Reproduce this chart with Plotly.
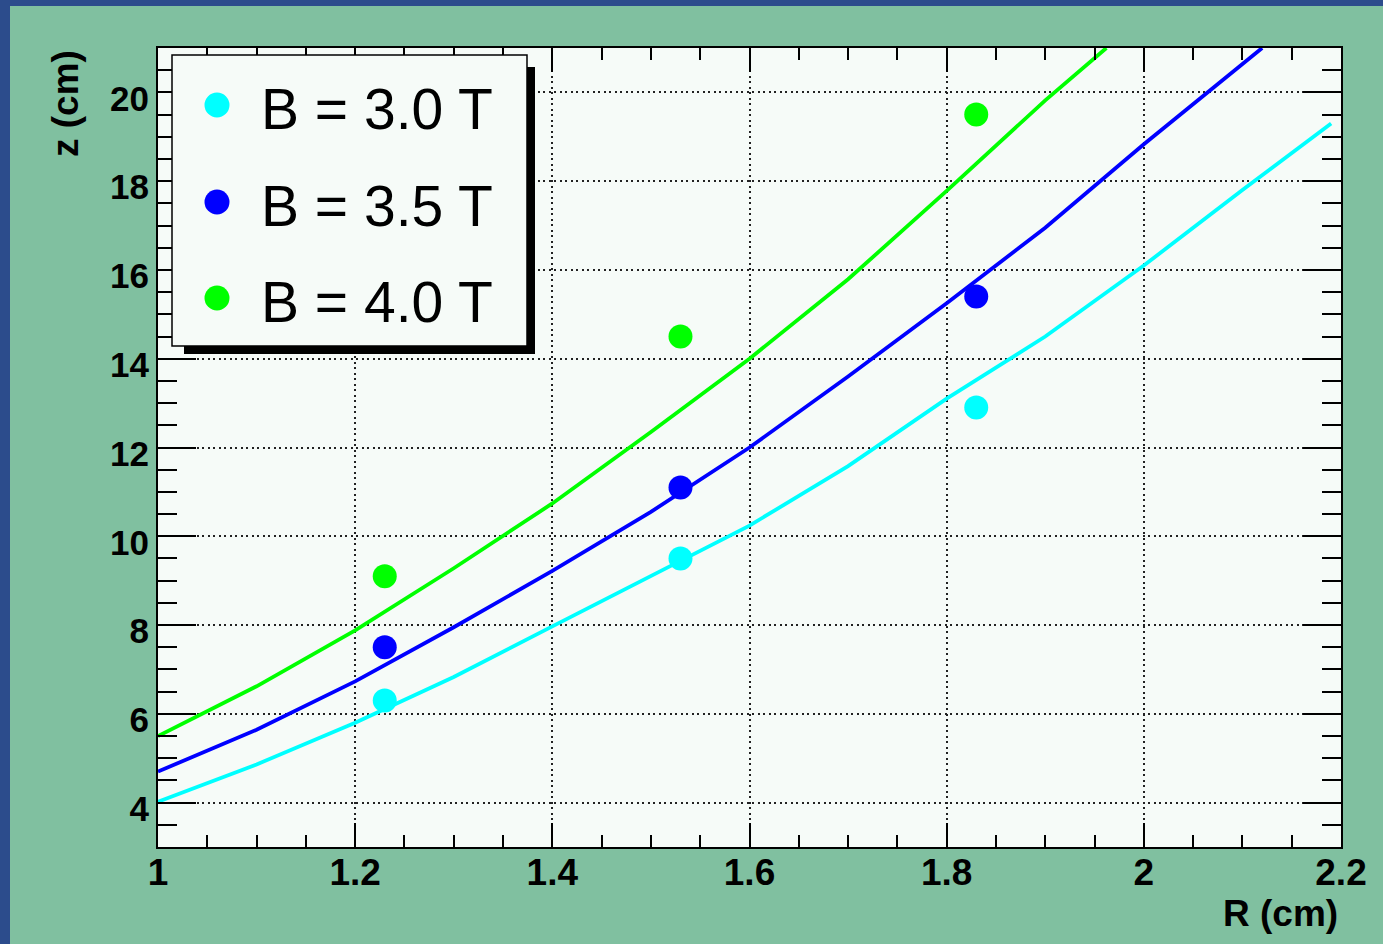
import plotly.graph_objects as go

# ---- data -------------------------------------------------------------
field_labels = ["B = 3.0 T", "B = 3.5 T", "B = 4.0 T"]
series_colors = ["#00ffff", "#0000ff", "#00ff00"]

# measured points
r_meas = [1.23, 1.53, 1.83]
z_meas_30 = [6.3, 9.5, 12.9]
z_meas_35 = [7.5, 11.1, 15.4]
z_meas_40 = [9.1, 14.5, 19.5]

# model curves
r_curve_30 = [1.0, 1.1, 1.2, 1.3, 1.4, 1.5, 1.6, 1.7, 1.8, 1.9, 2.0, 2.1, 2.19]
z_curve_30 = [4.02, 4.86, 5.8, 6.83, 7.97, 9.1, 10.24, 11.58, 13.1, 14.5, 16.1, 17.8, 19.3]
r_curve_35 = [1.0, 1.1, 1.2, 1.3, 1.4, 1.5, 1.6, 1.7, 1.8, 1.9, 2.0, 2.1, 2.12]
z_curve_35 = [4.7, 5.64, 6.73, 7.95, 9.22, 10.55, 12.0, 13.6, 15.25, 16.95, 18.83, 20.65, 21.0]
r_curve_40 = [1.0, 1.1, 1.2, 1.3, 1.4, 1.5, 1.6, 1.7, 1.8, 1.9, 1.962]
z_curve_40 = [5.5, 6.62, 7.88, 9.28, 10.74, 12.35, 14.0, 15.79, 17.78, 19.82, 21.0]

x_range = [1.0, 2.2]
y_range = [3.0, 21.0]

# ---- page geometry ----------------------------------------------------
W, H = 1383, 944
ML, MR, MT, MB = 158, 42, 48, 97
PW, PH = W - ML - MR, H - MT - MB

CANVAS = "#80c0a0"
FRAME_BG = "#f6fbf8"
EDGE = "#2c4c8c"
FONT = "Liberation Sans, Arial, sans-serif"


def px_x(px):
    return (px - ML) / PW


def px_y(py):
    return (H - MB - py) / PH


curves = [(r_curve_30, z_curve_30), (r_curve_35, z_curve_35), (r_curve_40, z_curve_40)]
points = [z_meas_30, z_meas_35, z_meas_40]

fig = go.Figure()

for (rc, zc), col, name in zip(curves, series_colors, field_labels):
    fig.add_trace(go.Scatter(x=rc, y=zc, mode="lines", name=name,
                             line=dict(color=col, width=3.8),
                             showlegend=False, hoverinfo="skip"))

for zm, col, name in zip(points, series_colors, field_labels):
    fig.add_trace(go.Scatter(x=r_meas, y=zm, mode="markers", name=name,
                             marker=dict(color=col, size=24, line=dict(width=0)),
                             showlegend=False))

shapes = []
annotations = []

# edge strips of the canvas
shapes.append(dict(type="rect", xref="paper", yref="paper", layer="below",
                   x0=px_x(0), x1=px_x(10), y0=px_y(H), y1=px_y(0),
                   fillcolor=EDGE, line=dict(width=0)))
shapes.append(dict(type="rect", xref="paper", yref="paper", layer="below",
                   x0=px_x(0), x1=px_x(W), y0=px_y(6), y1=px_y(0),
                   fillcolor=EDGE, line=dict(width=0)))

# legend box with drop shadow
shapes.append(dict(type="rect", xref="paper", yref="paper", layer="above",
                   x0=px_x(184), x1=px_x(535), y0=px_y(354), y1=px_y(67),
                   fillcolor="black", line=dict(width=0)))
shapes.append(dict(type="rect", xref="paper", yref="paper", layer="above",
                   x0=px_x(172), x1=px_x(527), y0=px_y(346), y1=px_y(55),
                   fillcolor=FRAME_BG, line=dict(color="black", width=1.5)))

legend_rows = [105, 202, 298]
for row, col, name in zip(legend_rows, series_colors, field_labels):
    shapes.append(dict(type="circle", xref="paper", yref="paper", layer="above",
                       x0=px_x(217 - 12.5), x1=px_x(217 + 12.5),
                       y0=px_y(row + 12.5), y1=px_y(row - 12.5),
                       fillcolor=col, line=dict(width=0)))
    annotations.append(dict(text=name, xref="paper", yref="paper",
                            x=px_x(259), y=px_y(row + 4), xanchor="left", yanchor="middle",
                            showarrow=False,
                            font=dict(family=FONT, size=57, color="black")))

# axis titles
annotations.append(dict(text="R (cm)", xref="paper", yref="paper",
                        x=px_x(1340), y=px_y(913), xanchor="right", yanchor="middle",
                        showarrow=False,
                        font=dict(family=FONT, size=37, color="black", weight="bold")))
annotations.append(dict(text="z (cm)", xref="paper", yref="paper",
                        x=px_x(66), y=px_y(103), xanchor="center", yanchor="middle",
                        textangle=-90, showarrow=False,
                        font=dict(family=FONT, size=37, color="black", weight="bold")))

axis_common = dict(
    showline=True, linecolor="black", linewidth=2, mirror="allticks",
    ticks="inside", tickcolor="black", tickwidth=2,
    showgrid=True, gridcolor="#222222", gridwidth=2, griddash="2px,3.5px",
    zeroline=False,
)

fig.update_xaxes(
    range=x_range, tick0=1.0, dtick=0.2, ticklen=24,
    minor=dict(ticks="inside", dtick=0.05, ticklen=12, tickwidth=2,
               tickcolor="black", showgrid=False),
    tickfont=dict(family=FONT, size=37, color="black", weight="bold"),
    ticklabelstandoff=-8,
    **axis_common,
)
fig.update_yaxes(
    range=y_range, tick0=0, dtick=2, ticklen=38,
    minor=dict(ticks="inside", dtick=0.5, ticklen=19, tickwidth=2,
               tickcolor="black", showgrid=False),
    tickfont=dict(family=FONT, size=35, color="black", weight="bold"),
    ticklabelshift=6,
    **axis_common,
)

fig.update_layout(
    width=W, height=H, autosize=False,
    margin=dict(l=ML, r=MR, t=MT, b=MB, pad=0),
    paper_bgcolor=CANVAS, plot_bgcolor=FRAME_BG,
    shapes=shapes, annotations=annotations,
    showlegend=False,
)

fig.write_html("out.html")
